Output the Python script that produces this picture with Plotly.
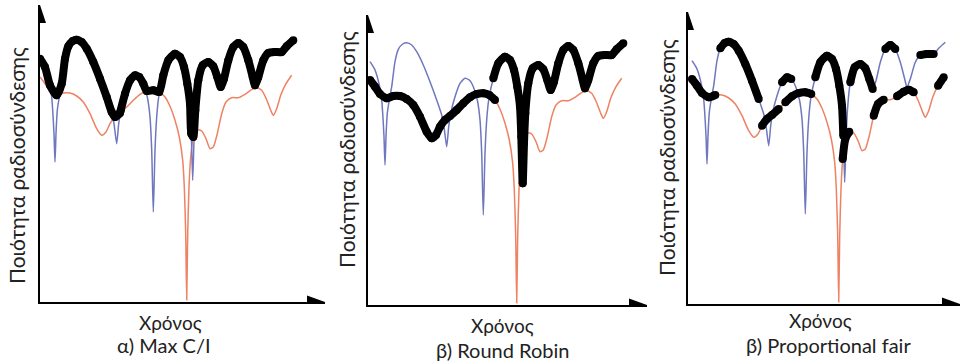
import plotly.graph_objects as go

# ---- data: channel quality of two users over time (same channels in all panels) ----
blue_t = [0, 5, 10, 11.7, 12.7, 14, 15, 16, 17.3, 19.3, 21.7, 25, 28.3, 32.7, 36.7, 41.7, 46.7,
          53.3, 60, 66.7, 71.7, 74, 76.7, 78.7, 80.7, 85, 90, 95, 99.3, 103.3, 107.3, 110,
          111.7, 113.3, 115, 116.7, 118.7, 123.3, 128.3, 135, 140, 144, 147.3, 150, 151.3,
          152.7, 154, 155.3, 158.3, 162.7, 168.3, 173.3, 177.3, 180.7, 184, 188.3, 193.3,
          198.3, 203.3, 208.3, 212.7, 215, 218.3, 223.3, 228.3, 235, 241.7, 246.7, 253.3]
blue_q = [243.3, 235, 216.7, 205, 191.7, 168.3, 140, 168.3, 191.7, 205, 218.3, 243.3, 255.7,
          261, 262.3, 260, 253.3, 240, 223.3, 205, 190, 178.3, 158.3, 178.3, 191.7, 208.3,
          221.7, 226.7, 225, 218.3, 205, 185, 151.7, 90, 151.7, 185, 205, 226.7, 241.7,
          248.3, 245, 235, 218.3, 198.3, 168.3, 121.7, 161.7, 191.7, 221.7, 236.7, 240,
          235.7, 225, 215, 223.3, 241.7, 255, 259, 255, 241.7, 225, 216.7, 225, 241.7, 249,
          250, 250, 255.7, 261.7]

red_t = [0, 5, 10, 16.7, 23.3, 30, 36.7, 43.3, 50, 56.7, 61.7, 66, 70, 75, 80, 86.7, 93.3,
         100, 106.7, 113.3, 119.3, 125, 130, 135, 139.3, 142.7, 144.3, 145.7, 146.7, 147.7,
         149, 150.7, 153.3, 157.3, 161.7, 166, 170, 173.3, 177.3, 181.7, 186, 191.7, 198.3,
         205, 211.7, 216.7, 221.7, 226.7, 230.7, 233.3, 236.7, 240.7, 246, 251.7]
red_q = [225, 218.3, 211, 206.7, 209, 209, 206, 200, 188.3, 173.3, 166.7, 170, 178.3, 185,
         189, 195, 201.7, 207.7, 211, 211.7, 210, 205, 195.7, 181.7, 165, 141.7, 115, 68.3,
         2, 68.3, 115, 145, 165, 172.3, 171, 163.3, 153.3, 155, 168.3, 188.3, 200, 204.3,
         204.3, 207.7, 212.3, 214.3, 211.7, 202.3, 191.7, 186.7, 193.3, 206.7, 218.3, 226.7]

# scheduled user over time intervals: (user, t_start, t_end)
sched_maxci = [("blue", 0, 10.5), ("red", 10.5, 20.5), ("blue", 20.5, 73), ("red", 73, 80.3),
               ("blue", 80.3, 106), ("red", 106, 119.5), ("blue", 119.5, 152),
               ("red", 152, 154.5), ("blue", 154.5, 254)]
sched_rr = [("red", 0, 125), ("blue", 123, 254)]
sched_pf = [("red", 0, 29), ("blue", 26, 67), ("red", 68, 88), ("blue", 88, 100),
            ("red", 92, 124), ("blue", 123, 152), ("red", 150, 158), ("blue", 158, 181),
            ("red", 181, 192), ("blue", 192, 204), ("red", 204, 224), ("blue", 226, 243),
            ("red", 244, 254)]

captions = ["α) Max C/I", "β) Round Robin", "β) Proportional fair"]
x_label = "Χρόνος"
y_label = "Ποιότητα ραδιοσύνδεσης"

# ---- layout geometry (pixels) ----
W, H = 962, 363
panels = [
    dict(ox=40, oy=302, xt=325, yt=5, xmin=0, ylx=17, yly=166, xlx=170, xly=322, cx=164, cy=345),
    dict(ox=368, oy=305, xt=647, yt=15, xmin=-2, ylx=347, yly=150, xlx=502, xly=325, cx=502, cy=350),
    dict(ox=688, oy=304, xt=960, yt=12, xmin=-4, ylx=667, yly=158, xlx=820, xly=320, cx=828, cy=345),
]
curves = {"blue": (blue_t, blue_q), "red": (red_t, red_q)}
BLUE = "#6f77bf"
RED = "#ee8263"
FONT = "Lato, 'Noto Sans', sans-serif"
TXT = "#222222"


def pick(user, t0, t1):
    ts, qs = curves[user]
    xs, ys = [], []
    for t, q in zip(ts, qs):
        if t0 <= t <= t1:
            xs.append(t)
            ys.append(q)
    return xs, ys


fig = go.Figure()
layout = dict(width=W, height=H, margin=dict(l=0, r=0, t=0, b=0),
              paper_bgcolor="white", plot_bgcolor="white", showlegend=False)
shapes, annots = [], []

for i, (p, sched, cap) in enumerate(zip(panels, [sched_maxci, sched_rr, sched_pf], captions)):
    n = "" if i == 0 else str(i + 1)
    xa, ya = "x" + n, "y" + n
    xr = [p["xmin"], p["xmin"] + (p["xt"] - p["ox"])]
    yr = [0, p["oy"] - p["yt"]]
    layout["xaxis" + n] = dict(domain=[p["ox"] / W, p["xt"] / W], range=xr, anchor=ya,
                               showgrid=False, zeroline=False, showticklabels=False,
                               ticks="", showline=True, linecolor="black", linewidth=1.5)
    layout["yaxis" + n] = dict(domain=[(H - p["oy"]) / H, (H - p["yt"]) / H], range=yr,
                               anchor=xa, showgrid=False, zeroline=False,
                               showticklabels=False, ticks="", showline=True,
                               linecolor="black", linewidth=1.5)
    # thin channel curves
    fig.add_trace(go.Scatter(x=red_t, y=red_q, mode="lines", xaxis=xa, yaxis=ya,
                             line=dict(color=RED, width=1.5, shape="spline", smoothing=0.6)))
    fig.add_trace(go.Scatter(x=blue_t, y=blue_q, mode="lines", xaxis=xa, yaxis=ya,
                             line=dict(color=BLUE, width=1.5, shape="spline", smoothing=0.6)))
    # scheduled user (thick black)
    if i == 0:
        xs, ys = [], []
        for u, t0, t1 in sched:
            a, b = pick(u, t0, t1)
            xs += a
            ys += b
        segs = [(xs, ys)]
    else:
        segs = [pick(u, t0, t1) for u, t0, t1 in sched]
    for xs, ys in segs:
        fig.add_trace(go.Scatter(x=xs, y=ys, mode="lines+markers", xaxis=xa, yaxis=ya,
                                 line=dict(color="black", width=8, shape="spline",
                                           smoothing=0.6),
                                 marker=dict(color="black", size=8)))
    # arrow heads
    x0 = xr[0]
    shapes.append(dict(type="path", xref=xa, yref=ya, fillcolor="black", line=dict(width=0),
                       path=f"M {x0-6},{yr[1]-18} L {x0},{yr[1]} L {x0+6},{yr[1]-18} Z"))
    shapes.append(dict(type="path", xref=xa, yref=ya, fillcolor="black", line=dict(width=0),
                       path=f"M {xr[1]-18},{-6.5} L {xr[1]},0 L {xr[1]-18},{6.5} Z"))
    # texts
    common = dict(xref="paper", yref="paper", showarrow=False, xanchor="center",
                  yanchor="middle")
    annots.append(dict(text=x_label, x=p["xlx"] / W, y=(H - p["xly"]) / H,
                       font=dict(family=FONT, size=19, color=TXT), **common))
    annots.append(dict(text=cap, x=p["cx"] / W, y=(H - p["cy"]) / H,
                       font=dict(family=FONT, size=20, color=TXT), **common))
    annots.append(dict(text=y_label, x=p["ylx"] / W, y=(H - p["yly"]) / H, textangle=-90,
                       font=dict(family=FONT, size=21, color=TXT), **common))

for s in shapes:
    s["layer"] = "above"
layout["shapes"] = shapes
layout["annotations"] = annots
fig.update_layout(**layout)
fig.write_html("out.html", config={"displayModeBar": False},
               post_script="document.body.style.margin='0';")
